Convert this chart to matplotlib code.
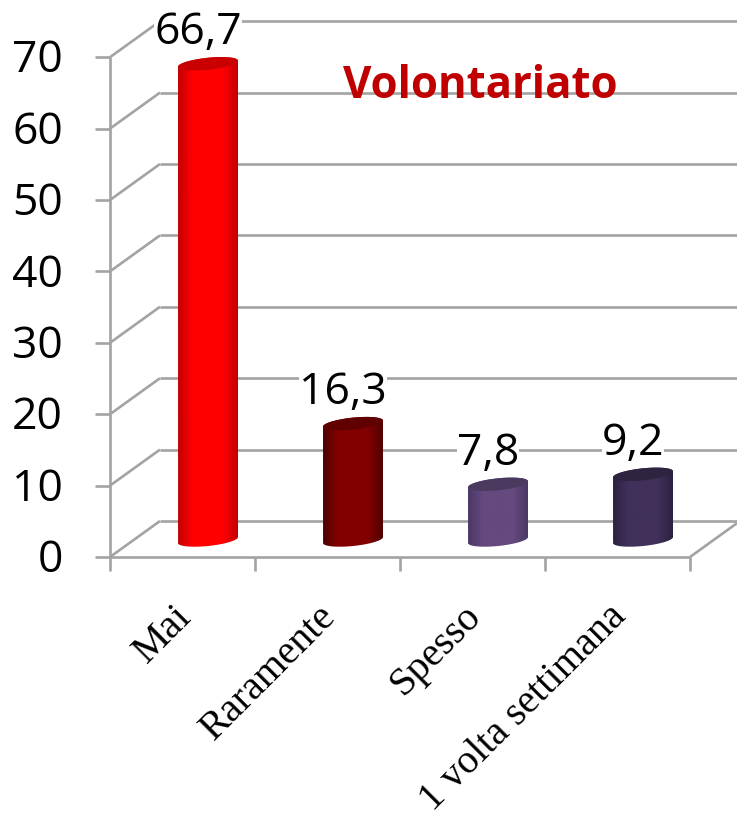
import numpy as np
import matplotlib
matplotlib.use("Agg")
import matplotlib.pyplot as plt
from matplotlib.colors import LinearSegmentedColormap
from matplotlib.patches import Polygon

categories = ["Mai", "Raramente", "Spesso", "1 volta settimana"]
values = [66.7, 16.3, 7.8, 9.2]
value_labels = ["66,7", "16,3", "7,8", "9,2"]
y_ticks = [0, 10, 20, 30, 40, 50, 60, 70]
edge_colors = ["#c40000", "#500000", "#4a3866", "#2c2140"]
mid_colors = ["#ff0000", "#820000", "#65497f", "#40305a"]
top_colors = ["#c80000", "#600000", "#4a3a60", "#2e2440"]
title = "Volontariato"

W, H = 737, 828
PX_X, PX_Y = 145.0, 7.14          # pixels per category / per unit
X0, Y0 = 110, 558                 # pixel of the origin
fig = plt.figure(figsize=(W / 100, H / 100), dpi=100)
ax = fig.add_axes([0, 0, 1, 1])
ax.set_xlim(-X0 / PX_X, (W - X0) / PX_X)
ax.set_ylim((Y0 - H) / PX_Y, Y0 / PX_Y)
ax.axis("off")

DX, DY = 50 / PX_X, 36 / PX_Y     # depth of the 3D wall
n = len(categories)
grid = "#a3a3a3"
lw = 1.9
kw = dict(color=grid, lw=lw, solid_capstyle="butt", zorder=1)
for v in y_ticks:
    ax.plot([0 + DX, n + 50 / PX_X], [v + DY, v + DY], **kw)
    ax.plot([0, DX], [v, v + DY], **kw)
    ax.plot([-15 / PX_X, 0], [v, v], **kw)
ax.plot([0, 0], [-14 / PX_Y, y_ticks[-1]], **kw)
ax.plot([0, n], [0, 0], **kw)
ax.plot([n, n + 47 / PX_X], [0, 47 / 50 * DY], **kw)
for i in range(1, n + 1):
    ax.plot([i, i], [-14 / PX_Y, 0], **kw)

sans = ["Open Sans", "DejaVu Sans"]
for v in y_ticks:
    ax.annotate(str(v), (0, v), xytext=(-47 / 1.389, -3 / 1.389), textcoords="offset points",
                ha="right", va="center", fontsize=32, family=sans, color="black")

for lab, i in zip(categories, range(n)):
    ax.annotate(lab, (i + 0.5, 0), xytext=(-10 / 1.389, -40 / 1.389), textcoords="offset points",
                ha="right", va="top", rotation=45, rotation_mode="anchor",
                fontsize=29, family="Liberation Serif", color="black")

BASE = 17 / PX_Y
CX = 0.676
A, SH, B = 30 / PX_X, 3 / PX_Y, 6 / PX_Y
t = np.linspace(0, 2 * np.pi, 121)
for i, (val, lab) in enumerate(zip(values, value_labels)):
    cx = i + CX
    y_b, y_t = BASE, BASE + val
    ex = cx + A * np.cos(t)
    ey = SH * np.cos(t) + B * np.sin(t)
    upper = t <= np.pi
    lower = ~upper
    outline = np.r_[np.c_[ex[upper], y_t + ey[upper]], np.c_[ex[lower], y_b + ey[lower]]]
    body = Polygon(outline, closed=True, transform=ax.transData, facecolor="none", edgecolor="none")
    ax.add_patch(body)
    cmap = LinearSegmentedColormap.from_list(
        "c", [(0, edge_colors[i]), (0.25, mid_colors[i]), (0.5, mid_colors[i]),
              (0.75, mid_colors[i]), (1, edge_colors[i])])
    im = ax.imshow(np.linspace(0, 1, 128)[None, :], extent=[cx - A, cx + A, y_b - 2 * B, y_t + 2 * B],
                   cmap=cmap, aspect="auto", zorder=3, interpolation="bilinear")
    im.set_clip_path(body)
    ax.add_patch(Polygon(np.c_[ex, y_t + ey], closed=True, facecolor=top_colors[i],
                         edgecolor="none", zorder=4))
    ax.annotate(lab, (cx, y_t), xytext=(-10 / 1.389, 32 / 1.389), textcoords="offset points",
                ha="center", va="center", fontsize=32, family=sans, color="black", zorder=5,
                bbox=dict(facecolor="white", edgecolor="none", pad=0))

ax.set_xlim(-X0 / PX_X, (W - X0) / PX_X)
ax.set_ylim((Y0 - H) / PX_Y, Y0 / PX_Y)
ax.text((480 - X0) / PX_X, (Y0 - 87) / PX_Y, title, color="#c00000", fontsize=31.5,
        fontweight="bold", family=sans, ha="center", va="center", zorder=6)
fig.savefig("out.png", dpi=100)
